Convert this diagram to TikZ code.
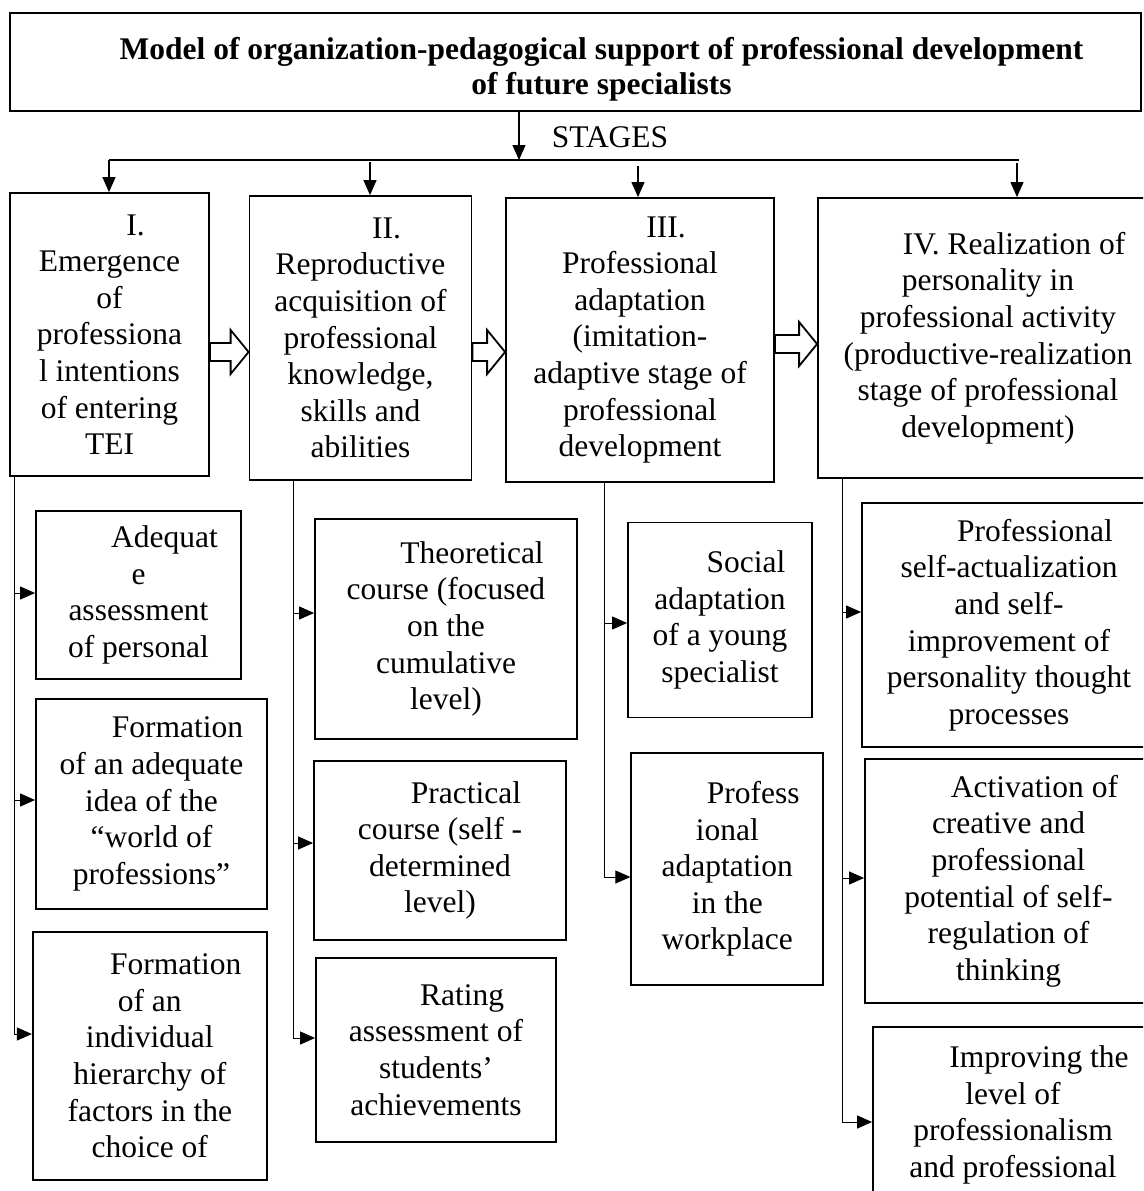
\documentclass[tikz,border=0pt]{standalone}
\usepackage{fontspec}
\setmainfont{Liberation Serif}
\usetikzlibrary{arrows.meta,calc}

\newcommand{\indfirst}{\hspace*{52pt}}
\newcommand{\hollowarrow}[3]{%
  \coordinate (hay) at (0,#3);
  \coordinate (ha) at (#1.east |- hay);
  \coordinate (hb) at (#2.west |- hay);
  \draw[blockarrow] ($(ha)+(0,-9)$) -- ($(hb)+(-18,-9)$) -- ($(hb)+(-18,-22)$) -- (hb)
    -- ($(hb)+(-18,22)$) -- ($(hb)+(-18,9)$) -- ($(ha)+(0,9)$) -- cycle;}

\tikzset{
  stagebox/.style={draw, line width=1.8pt, align=center, inner sep=0pt,
    font=\fontsize{31.5}{36.6}\selectfont},
  arr/.style={line width=1pt, -{Triangle[length=15pt,width=13pt]}},
  trunk/.style={line width=1pt},
  blockarrow/.style={draw, line width=1.8pt, fill=white, line join=miter}
}

\begin{document}
\begin{tikzpicture}[x=1pt,y=-1pt]
    \path[use as bounding box, fill=white] (0,0) rectangle (1143,1191);
    \clip (0,0) rectangle (1143,1191);

    \node[stagebox, line width=2.2pt, font=\bfseries\fontsize{31.5}{35}\selectfont,
      minimum width=1131pt, minimum height=98pt] (title) at (575.5,62)
      {\rule{0pt}{36pt}\indfirst Model of organization-pedagogical support of professional development\\
       \indfirst of future specialists};
    \node[font=\fontsize{31.5}{36.6}\selectfont] (stages) at (610,137) {STAGES};

    \node[stagebox, minimum width=199pt, minimum height=283pt] (s1) at (109.5,334.5)
      {\indfirst I.\\Emergence\\of\\professiona\\l intentions\\of entering\\TEI};
    \node[stagebox, minimum width=222pt, minimum height=284pt] (s2) at (360.5,338)
      {\indfirst II.\\Reproductive\\acquisition of\\professional\\knowledge,\\skills and\\abilities};
    \node[stagebox, minimum width=268pt, minimum height=284pt] (s3) at (640,340)
      {\indfirst III.\\Professional\\adaptation\\(imitation-\\adaptive stage of\\professional\\development};
    \node[stagebox, minimum width=340pt, minimum height=280pt] (s4) at (988,338)
      {\indfirst IV. Realization of\\personality in\\professional activity\\(productive-realization\\stage of professional\\development)};

    \node[stagebox, minimum width=205pt, minimum height=168pt] (ad) at (138.5,595)
      {\indfirst Adequat\\e\\assessment\\of personal};
    \node[stagebox, minimum width=231pt, minimum height=210pt] (fa) at (151.5,804)
      {\indfirst Formation\\of an adequate\\idea of the\\“world of\\professions”};
    \node[stagebox, minimum width=234pt, minimum height=248pt] (fi) at (149.8,1056)
      {\indfirst Formation\\of an\\individual\\hierarchy of\\factors in the\\choice of};

    \node[stagebox, minimum width=262pt, minimum height=220pt] (th) at (446,629)
      {\indfirst Theoretical\\course (focused\\on the\\cumulative\\level)};
    \node[stagebox, minimum width=252pt, minimum height=179pt] (pr) at (440,850.5)
      {\indfirst Practical\\course (self -\\determined\\level)};
    \node[stagebox, minimum width=240pt, minimum height=184pt] (ra) at (436,1050)
      {\indfirst Rating\\assessment of\\students’\\achievements};

    \node[stagebox, minimum width=184pt, minimum height=195pt] (so) at (720,620)
      {\indfirst Social\\adaptation\\of a young\\specialist};
    \node[stagebox, minimum width=192pt, minimum height=232pt] (pa) at (727.3,869)
      {\indfirst Profess\\ional\\adaptation\\in the\\workplace};

    \node[stagebox, minimum width=294pt, minimum height=244pt] (ps) at (1009,625)
      {\indfirst Professional\\self-actualization\\and self-\\improvement of\\personality thought\\processes};
    \node[stagebox, minimum width=287pt, minimum height=244pt] (ac) at (1008.5,881)
      {\indfirst Activation of\\creative and\\professional\\potential of self-\\regulation of\\thinking};
    \node[stagebox, minimum width=280pt, minimum height=176pt] (im) at (1013,1115)
      {\indfirst Improving the\\level of\\professionalism\\and professional};

    \coordinate (b0) at (519,160);
    \coordinate (busl) at (109,160);
    \coordinate (busr) at (1019,160);
    \draw[arr, line width=1.2pt] (b0 |- title.south) -- (b0);
    \draw[trunk, line width=1.2pt] (busl) -- (busr);
    \foreach \x/\y/\n in {109/160/s1, 370/162/s2, 638/166/s3, 1017/163/s4}
      \draw[arr, line width=1.2pt] (\x,\y) -- (\x,\y |- \n.north);

    \hollowarrow{s1}{s2}{352}
    \hollowarrow{s2}{s3}{352}
    \hollowarrow{s3}{s4}{344}

    \draw[trunk] (14,0 |- s1.south) -- (14,1034);
    \foreach \y/\n in {593/ad, 800/fa, 1034/fi}
      \draw[arr] (14,\y) -- (14,\y -| \n.west);
    \draw[trunk] (293,0 |- s2.south) -- (293,1038);
    \foreach \y/\n in {613/th, 843/pr, 1038/ra}
      \draw[arr] (293,\y) -- (293,\y -| \n.west);
    \draw[trunk] (604,0 |- s3.south) -- (604,877);
    \foreach \y/\n in {623/so, 877/pa}
      \draw[arr] (604,\y) -- (604,\y -| \n.west);
    \draw[trunk] (842,0 |- s4.south) -- (842,1122);
    \foreach \y/\n in {612/ps, 878/ac, 1122/im}
      \draw[arr] (842,\y) -- (842,\y -| \n.west);
\end{tikzpicture}
\end{document}
